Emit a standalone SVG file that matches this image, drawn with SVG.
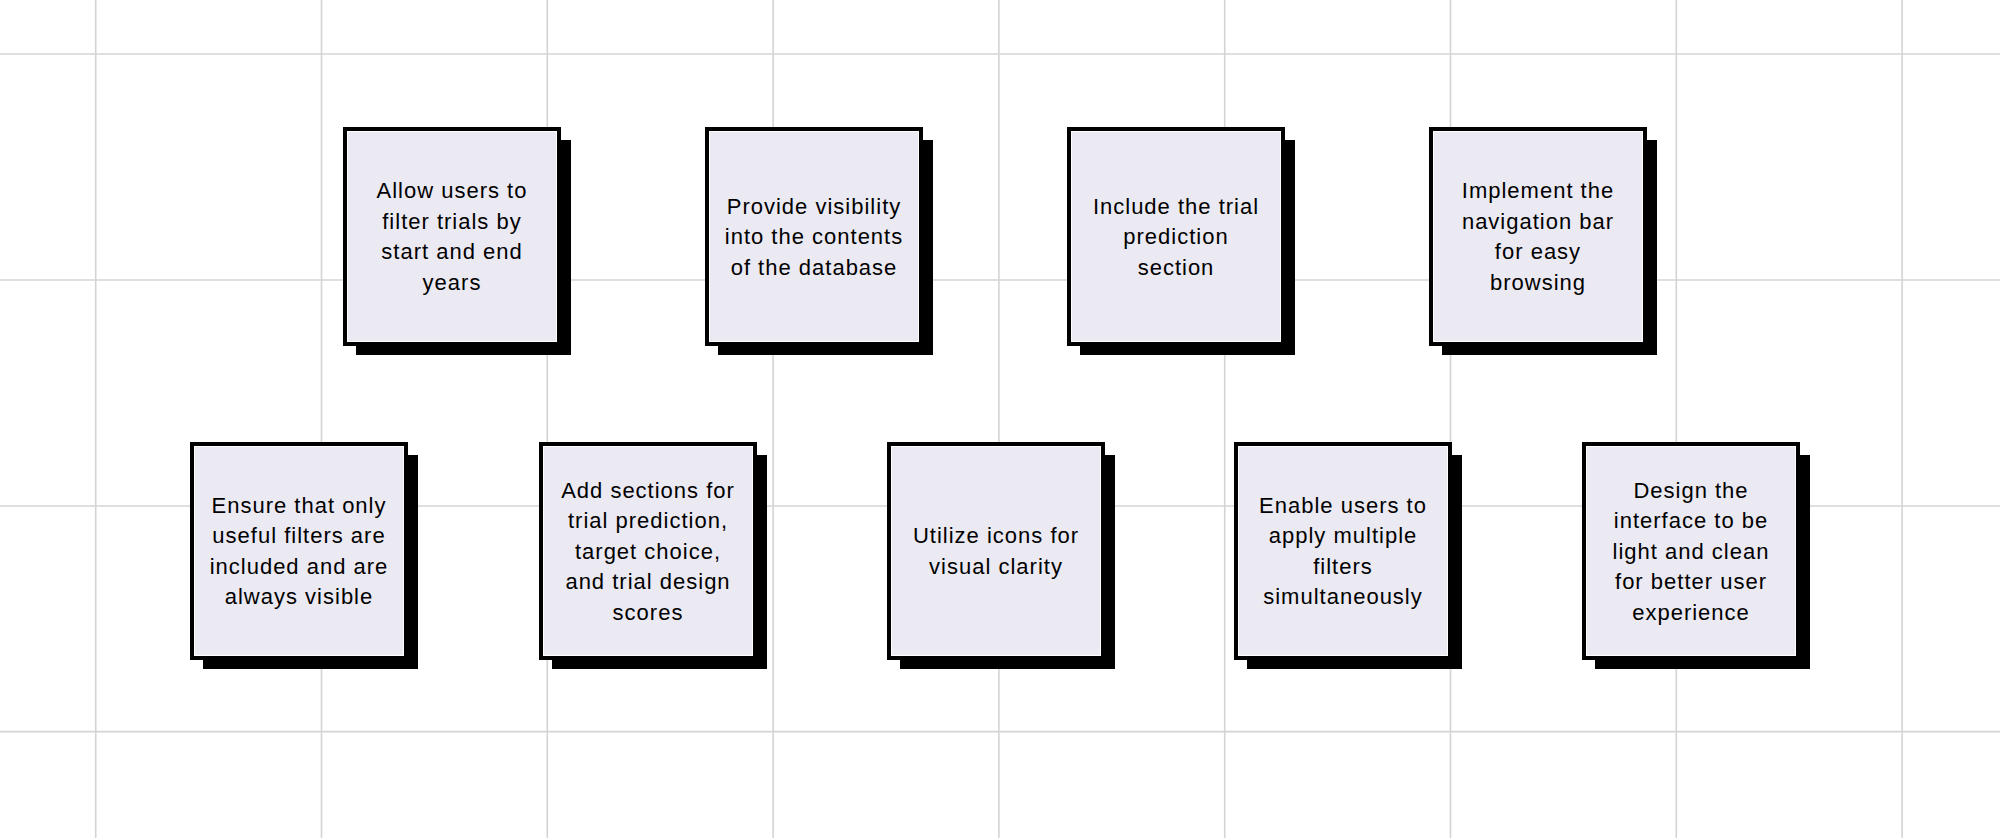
<svg xmlns="http://www.w3.org/2000/svg" width="2000" height="838" viewBox="0 0 2000 838">
<style>
.grid line{stroke:#d4d4d4;stroke-width:1.6}
.shadow{fill:#000}
.border{fill:#000}
.face{fill:#ebe9f2;stroke:#ffffff;stroke-width:1}
.label{font-family:"Liberation Sans",Arial,sans-serif;font-size:22px;letter-spacing:1px;fill:#000;text-anchor:middle}
</style>
<rect x="0" y="0" width="2000" height="838" fill="#ffffff"/>
<g class="grid">
<line x1="95.7" y1="0" x2="95.7" y2="838"/>
<line x1="321.5" y1="0" x2="321.5" y2="838"/>
<line x1="547.3" y1="0" x2="547.3" y2="838"/>
<line x1="773.1" y1="0" x2="773.1" y2="838"/>
<line x1="998.9" y1="0" x2="998.9" y2="838"/>
<line x1="1224.7" y1="0" x2="1224.7" y2="838"/>
<line x1="1450.5" y1="0" x2="1450.5" y2="838"/>
<line x1="1676.3" y1="0" x2="1676.3" y2="838"/>
<line x1="1902.1" y1="0" x2="1902.1" y2="838"/>
<line x1="0" y1="54" x2="2000" y2="54"/>
<line x1="0" y1="280" x2="2000" y2="280"/>
<line x1="0" y1="506" x2="2000" y2="506"/>
<line x1="0" y1="731.6" x2="2000" y2="731.6"/>
</g>
<g id="connectors"/>
<g id="n1">
<rect class="shadow" x="356" y="140" width="215" height="215"/>
<rect class="border" x="343" y="127" width="218" height="219"/>
<rect class="face" x="347.5" y="131.5" width="209" height="210"/>
<text class="label"><tspan x="452" y="198.3">Allow users to</tspan><tspan x="452" y="228.8">filter trials by</tspan><tspan x="452" y="259.3">start and end</tspan><tspan x="452" y="289.8">years</tspan></text>
</g>
<g id="n2">
<rect class="shadow" x="718" y="140" width="215" height="215"/>
<rect class="border" x="705" y="127" width="218" height="219"/>
<rect class="face" x="709.5" y="131.5" width="209" height="210"/>
<text class="label"><tspan x="814" y="213.5">Provide visibility</tspan><tspan x="814" y="244">into the contents</tspan><tspan x="814" y="274.5">of the database</tspan></text>
</g>
<g id="n3">
<rect class="shadow" x="1080" y="140" width="215" height="215"/>
<rect class="border" x="1067" y="127" width="218" height="219"/>
<rect class="face" x="1071.5" y="131.5" width="209" height="210"/>
<text class="label"><tspan x="1176" y="213.5">Include the trial</tspan><tspan x="1176" y="244">prediction</tspan><tspan x="1176" y="274.5">section</tspan></text>
</g>
<g id="n4">
<rect class="shadow" x="1442" y="140" width="215" height="215"/>
<rect class="border" x="1429" y="127" width="218" height="219"/>
<rect class="face" x="1433.5" y="131.5" width="209" height="210"/>
<text class="label"><tspan x="1538" y="198.3">Implement the</tspan><tspan x="1538" y="228.8">navigation bar</tspan><tspan x="1538" y="259.3">for easy</tspan><tspan x="1538" y="289.8">browsing</tspan></text>
</g>
<g id="n5">
<rect class="shadow" x="203" y="455" width="215" height="214"/>
<rect class="border" x="190" y="442" width="218" height="218"/>
<rect class="face" x="194.5" y="446.5" width="209" height="209"/>
<text class="label"><tspan x="299" y="512.8">Ensure that only</tspan><tspan x="299" y="543.3">useful filters are</tspan><tspan x="299" y="573.8">included and are</tspan><tspan x="299" y="604.3">always visible</tspan></text>
</g>
<g id="n6">
<rect class="shadow" x="552" y="455" width="215" height="214"/>
<rect class="border" x="539" y="442" width="218" height="218"/>
<rect class="face" x="543.5" y="446.5" width="209" height="209"/>
<text class="label"><tspan x="648" y="497.5">Add sections for</tspan><tspan x="648" y="528">trial prediction,</tspan><tspan x="648" y="558.5">target choice,</tspan><tspan x="648" y="589">and trial design</tspan><tspan x="648" y="619.5">scores</tspan></text>
</g>
<g id="n7">
<rect class="shadow" x="900" y="455" width="215" height="214"/>
<rect class="border" x="887" y="442" width="218" height="218"/>
<rect class="face" x="891.5" y="446.5" width="209" height="209"/>
<text class="label"><tspan x="996" y="543.3">Utilize icons for</tspan><tspan x="996" y="573.8">visual clarity</tspan></text>
</g>
<g id="n8">
<rect class="shadow" x="1247" y="455" width="215" height="214"/>
<rect class="border" x="1234" y="442" width="218" height="218"/>
<rect class="face" x="1238.5" y="446.5" width="209" height="209"/>
<text class="label"><tspan x="1343" y="512.8">Enable users to</tspan><tspan x="1343" y="543.3">apply multiple</tspan><tspan x="1343" y="573.8">filters</tspan><tspan x="1343" y="604.3">simultaneously</tspan></text>
</g>
<g id="n9">
<rect class="shadow" x="1595" y="455" width="215" height="214"/>
<rect class="border" x="1582" y="442" width="218" height="218"/>
<rect class="face" x="1586.5" y="446.5" width="209" height="209"/>
<text class="label"><tspan x="1691" y="497.5">Design the</tspan><tspan x="1691" y="528">interface to be</tspan><tspan x="1691" y="558.5">light and clean</tspan><tspan x="1691" y="589">for better user</tspan><tspan x="1691" y="619.5">experience</tspan></text>
</g>
</svg>
